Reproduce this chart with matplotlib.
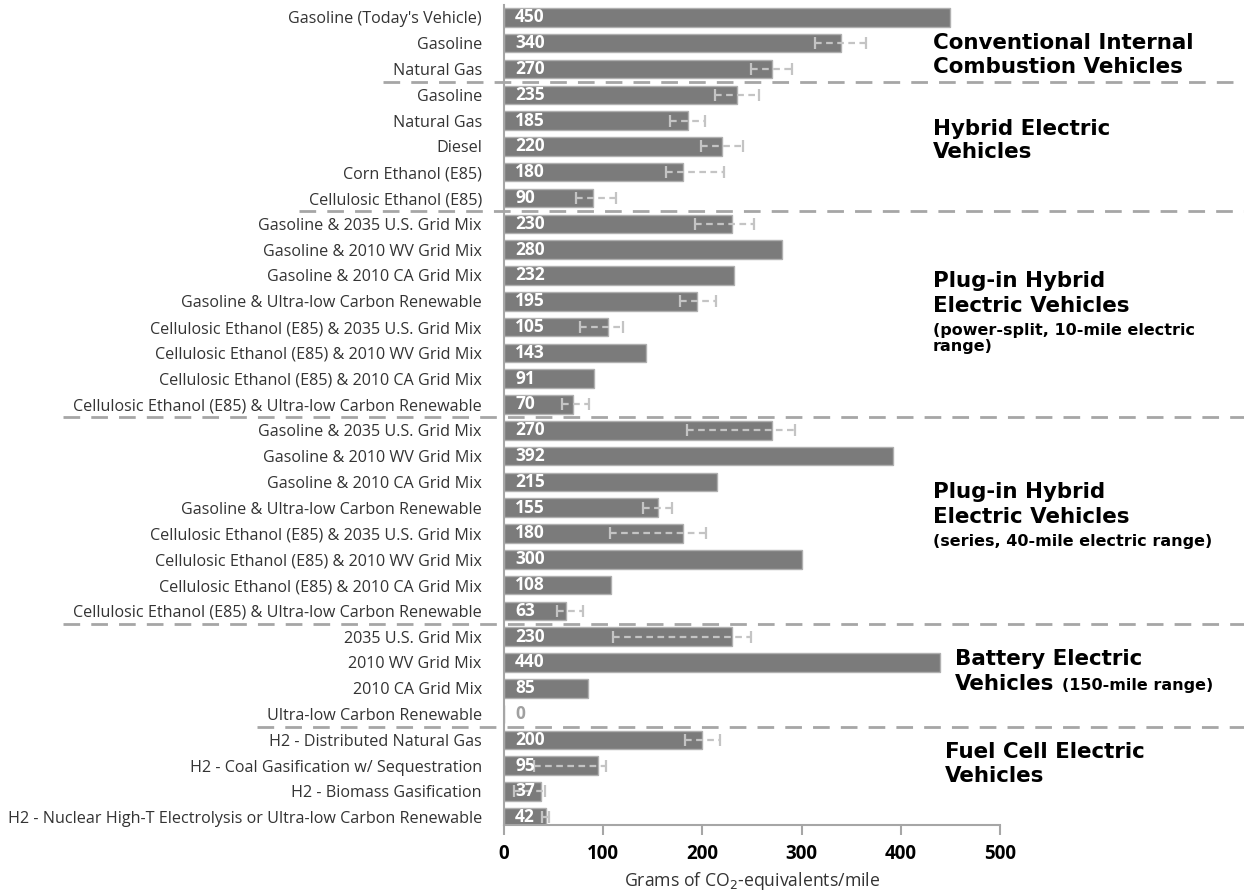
import numpy as np
import matplotlib.pyplot as plt
from matplotlib.lines import Line2D
from matplotlib.transforms import blended_transform_factory

plt.rcParams['font.family'] = ['Open Sans', 'DejaVu Sans']

# data
labels = ["Gasoline (Today's Vehicle)", "Gasoline", "Natural Gas",
          "Gasoline", "Natural Gas", "Diesel", "Corn Ethanol (E85)", "Cellulosic Ethanol (E85)",
          "Gasoline & 2035 U.S. Grid Mix", "Gasoline & 2010 WV Grid Mix",
          "Gasoline & 2010 CA Grid Mix", "Gasoline & Ultra-low Carbon Renewable",
          "Cellulosic Ethanol (E85) & 2035 U.S. Grid Mix", "Cellulosic Ethanol (E85) & 2010 WV Grid Mix",
          "Cellulosic Ethanol (E85) & 2010 CA Grid Mix", "Cellulosic Ethanol (E85) & Ultra-low Carbon Renewable",
          "Gasoline & 2035 U.S. Grid Mix", "Gasoline & 2010 WV Grid Mix",
          "Gasoline & 2010 CA Grid Mix", "Gasoline & Ultra-low Carbon Renewable",
          "Cellulosic Ethanol (E85) & 2035 U.S. Grid Mix", "Cellulosic Ethanol (E85) & 2010 WV Grid Mix",
          "Cellulosic Ethanol (E85) & 2010 CA Grid Mix", "Cellulosic Ethanol (E85) & Ultra-low Carbon Renewable",
          "2035 U.S. Grid Mix", "2010 WV Grid Mix", "2010 CA Grid Mix", "Ultra-low Carbon Renewable",
          "H2 - Distributed Natural Gas", "H2 - Coal Gasification w/ Sequestration",
          "H2 - Biomass Gasification", "H2 - Nuclear High-T Electrolysis or Ultra-low Carbon Renewable"]

values = [450, 340, 270,
          235, 185, 220, 180, 90,
          230, 280, 232, 195, 105, 143, 91, 70,
          270, 392, 215, 155, 180, 300, 108, 63,
          230, 440, 85, 0,
          200, 95, 37, 42]

nan = np.nan
err_low = [nan, 314, 249,
           213, 167, 199, 163, 73,
           193, nan, nan, 177, 77, nan, nan, 58,
           184, nan, nan, 140, 107, nan, nan, 53,
           110, nan, nan, nan,
           182, 30, 10, 38]
err_high = [nan, 365, 290,
            257, 203, 241, 222, 113,
            252, nan, nan, 214, 120, nan, nan, 86,
            293, nan, nan, 169, 204, nan, nan, 80,
            249, nan, nan, nan,
            218, 103, 41, 45]

# rows after which a dashed separator is drawn
group_ends = [2, 7, 15, 23, 27]

W, H = 1244, 894
fig = plt.figure(figsize=(W / 100, H / 100), dpi=100)
ax = fig.add_axes([504 / W, 1 - 825 / H, (1000 - 504) / W, (825 - 5) / H])

y = np.arange(len(values))
vals = np.array(values, dtype=float)
lo = np.array(err_low)
hi = np.array(err_high)

ax.barh(y, vals, height=0.72, color='#7b7b7b', edgecolor='#b0b0b0', linewidth=1)

m = ~np.isnan(lo)
eb = ax.errorbar(vals[m], y[m], xerr=[vals[m] - lo[m], hi[m] - vals[m]], fmt='none',
                 ecolor='#c4c4c4', elinewidth=1.6, capsize=4, capthick=1.6)
eb[2][0].set_linestyle((0, (3, 2)))

for i, v in enumerate(values):
    ax.annotate(str(v), (0, i), xytext=(8, 0), textcoords='offset points',
                va='center', ha='left', fontsize=12.5, fontweight='bold',
                color='white' if v > 0 else '#a0a0a0')

ax.set_xlim(0, 500)
ax.set_ylim(len(values) - 0.7, -0.48)
ax.set_yticks(y)
ax.set_yticklabels(labels, fontsize=11.6, color='#333333')
ax.tick_params(axis='y', length=0, pad=16)
ax.set_xticks(np.arange(0, 501, 100))
ax.tick_params(axis='x', direction='out', length=7, color='#a6a6a6', width=1.5,
               labelsize=13.5, pad=7)
for t in ax.get_xticklabels():
    t.set_fontweight('bold')
ax.set_xlabel('Grams of CO$_2$-equivalents/mile', fontsize=12.7, color='#333333', labelpad=4)

for s in ['top', 'right']:
    ax.spines[s].set_visible(False)
for s in ['left', 'bottom']:
    ax.spines[s].set_color('#a6a6a6')
    ax.spines[s].set_linewidth(1.5)

# dashed separators, starting a bit left of the label above
fig.canvas.draw()
r = fig.canvas.get_renderer()
ticklabels = ax.get_yticklabels()
tr = blended_transform_factory(fig.transFigure, ax.transData)
for g in group_ends:
    x0 = ticklabels[g].get_window_extent(r).x0 - 10
    ax.add_line(Line2D([x0 / W, 1.0], [g + 0.5, g + 0.5], transform=tr, clip_on=False,
                       color='#a6a6a6', linewidth=2, linestyle=(0, (6, 4))))

# group titles (baseline positions in pixels)
big = dict(fontsize=15.4, fontweight='bold', family='DejaVu Sans', color='black', va='baseline')
small = dict(fontsize=11.5, fontweight='bold', family='DejaVu Sans', color='black', va='baseline')


def put(x, yb, s, style):
    return fig.text(x / W, 1 - yb / H, s, **style)


put(933, 49, 'Conventional Internal', big)
put(933, 73, 'Combustion Vehicles', big)
put(933, 135, 'Hybrid Electric', big)
put(933, 158, 'Vehicles', big)
put(933, 287, 'Plug-in Hybrid', big)
put(933, 312, 'Electric Vehicles', big)
put(933, 335, '(power-split, 10-mile electric', small)
put(933, 351, 'range)', small)
put(933, 498, 'Plug-in Hybrid', big)
put(933, 523, 'Electric Vehicles', big)
put(933, 546, '(series, 40-mile electric range)', small)
put(955, 665, 'Battery Electric', big)
t = put(955, 690, 'Vehicles', big)
x_end = t.get_window_extent(r).x1
put(x_end + 8, 690, '(150-mile range)', small)
put(945, 758, 'Fuel Cell Electric', big)
put(945, 782, 'Vehicles', big)

fig.savefig('out.png', dpi=100)
